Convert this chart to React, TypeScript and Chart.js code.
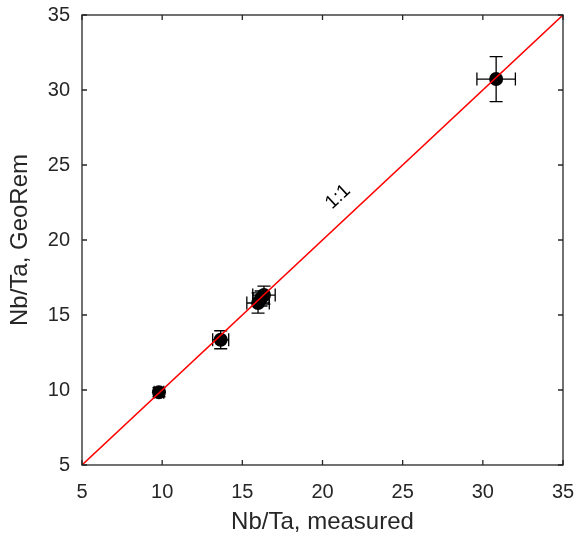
import React, { useEffect, useRef } from "react";
import { Chart, registerables } from "chart.js";

Chart.register(...registerables);

const xMeasured = [30.83, 13.65, 9.8, 16.35, 15.98, 16.17];
const yGeoRem = [30.73, 13.35, 9.85, 16.33, 15.8, 16.1];
const xErr = [1.2, 0.5, 0.3, 0.7, 0.7, 0.5];
const yErr = [1.5, 0.6, 0.3, 0.6, 0.67, 0.5];
const oneToOne = [5, 35];
const tickValues = [5, 10, 15, 20, 25, 30, 35];
const xTitle = "Nb/Ta, measured";
const yTitle = "Nb/Ta, GeoRem";
const lineLabel = "1:1";
const lineLabelPos = [20.97, 22.87];

const FONT = "'Liberation Sans', Arial, Helvetica, sans-serif";

const boxPlugin = {
  id: "matlabBox",
  afterDatasetsDraw(chart: any) {
    const { ctx, chartArea, scales } = chart;
    const { left, right, top, bottom } = chartArea;
    const xs = scales.x;
    const ys = scales.y;
    ctx.save();
    // error bars
    ctx.strokeStyle = "#000";
    ctx.lineWidth = 1.3;
    const cap = 6.5;
    for (let i = 0; i < xMeasured.length; i++) {
      const px = xs.getPixelForValue(xMeasured[i]);
      const py = ys.getPixelForValue(yGeoRem[i]);
      const x0 = xs.getPixelForValue(xMeasured[i] - xErr[i]);
      const x1 = xs.getPixelForValue(xMeasured[i] + xErr[i]);
      const y0 = ys.getPixelForValue(yGeoRem[i] - yErr[i]);
      const y1 = ys.getPixelForValue(yGeoRem[i] + yErr[i]);
      ctx.beginPath();
      ctx.moveTo(x0, py); ctx.lineTo(x1, py);
      ctx.moveTo(x0, py - cap); ctx.lineTo(x0, py + cap);
      ctx.moveTo(x1, py - cap); ctx.lineTo(x1, py + cap);
      ctx.moveTo(px, y0); ctx.lineTo(px, y1);
      ctx.moveTo(px - cap, y0); ctx.lineTo(px + cap, y0);
      ctx.moveTo(px - cap, y1); ctx.lineTo(px + cap, y1);
      ctx.stroke();
    }
    // markers
    ctx.fillStyle = "#000";
    for (let i = 0; i < xMeasured.length; i++) {
      const px = xs.getPixelForValue(xMeasured[i]);
      const py = ys.getPixelForValue(yGeoRem[i]);
      ctx.beginPath();
      ctx.arc(px, py, 7, 0, Math.PI * 2);
      ctx.fill();
    }
    // 1:1 line on top
    ctx.strokeStyle = "#ff0000";
    ctx.lineWidth = 1.7;
    ctx.beginPath();
    ctx.moveTo(xs.getPixelForValue(oneToOne[0]), ys.getPixelForValue(oneToOne[0]));
    ctx.lineTo(xs.getPixelForValue(oneToOne[1]), ys.getPixelForValue(oneToOne[1]));
    ctx.stroke();
    // label
    const lx = xs.getPixelForValue(lineLabelPos[0]);
    const ly = ys.getPixelForValue(lineLabelPos[1]);
    const ang = Math.atan2(
      ys.getPixelForValue(35) - ys.getPixelForValue(5),
      xs.getPixelForValue(35) - xs.getPixelForValue(5)
    );
    ctx.translate(lx, ly);
    ctx.rotate(ang);
    ctx.fillStyle = "#000";
    ctx.font = `19px ${FONT}`;
    ctx.textAlign = "center";
    ctx.textBaseline = "middle";
    ctx.fillText(lineLabel, 0, 0);
    ctx.setTransform(1, 0, 0, 1, 0, 0);
    ctx.restore();
    ctx.save();
    // box
    ctx.strokeStyle = "#262626";
    ctx.lineWidth = 1.3;
    ctx.strokeRect(left, top, right - left, bottom - top);
    // ticks inward
    const tl = 5;
    ctx.beginPath();
    for (const v of tickValues) {
      const px = xs.getPixelForValue(v);
      ctx.moveTo(px, bottom); ctx.lineTo(px, bottom - tl);
      ctx.moveTo(px, top); ctx.lineTo(px, top + tl);
      const py = ys.getPixelForValue(v);
      ctx.moveTo(left, py); ctx.lineTo(left + tl, py);
      ctx.moveTo(right, py); ctx.lineTo(right - tl, py);
    }
    ctx.stroke();
    ctx.restore();
  },
};

export default function App() {
  const ref = useRef<HTMLCanvasElement>(null);
  useEffect(() => {
    if (!ref.current) return;
    const chart = new Chart(ref.current, {
      type: "scatter",
      data: {
        datasets: [
          {
            data: xMeasured.map((x, i) => ({ x, y: yGeoRem[i] })),
            pointRadius: 0,
            showLine: false,
          },
        ],
      },
      options: {
        animation: false,
        responsive: false,
        maintainAspectRatio: false,
        layout: { padding: { top: 15, right: 14, left: 0, bottom: 0 } },
        plugins: { legend: { display: false }, tooltip: { enabled: false } },
        scales: {
          x: {
            type: "linear",
            min: 5,
            max: 35,
            afterBuildTicks: (s: any) => { s.ticks = tickValues.map((v) => ({ value: v })); },
            afterFit: (s: any) => { s.height = 74; s.paddingLeft = 0; s.paddingRight = 0; s.paddingTop = 0; s.paddingBottom = 0; },
            grid: { display: false, drawTicks: false },
            border: { display: false },
            ticks: { color: "#262626", font: { family: FONT, size: 20 }, padding: 15, maxRotation: 0 },
            title: { display: true, text: xTitle, color: "#262626", font: { family: FONT, size: 24 }, padding: { top: 4, bottom: 2 } },
          },
          y: {
            type: "linear",
            min: 5,
            max: 35,
            afterBuildTicks: (s: any) => { s.ticks = tickValues.map((v) => ({ value: v })); },
            afterFit: (s: any) => { s.width = 82; s.paddingLeft = 0; s.paddingRight = 0; s.paddingTop = 0; s.paddingBottom = 0; },
            grid: { display: false, drawTicks: false },
            border: { display: false },
            ticks: { color: "#262626", font: { family: FONT, size: 20 }, padding: 12 },
            title: { display: true, text: yTitle, color: "#262626", font: { family: FONT, size: 24 }, padding: { top: 6, bottom: 4 } },
          },
        },
      },
      plugins: [boxPlugin],
    } as any);
    return () => chart.destroy();
  }, []);
  return (
    <div style={{ position: "absolute", left: 0, top: 0, width: 577, height: 539, background: "#fff" }}>
      <canvas ref={ref} width={577} height={539} style={{ width: 577, height: 539 }} />
    </div>
  );
}
